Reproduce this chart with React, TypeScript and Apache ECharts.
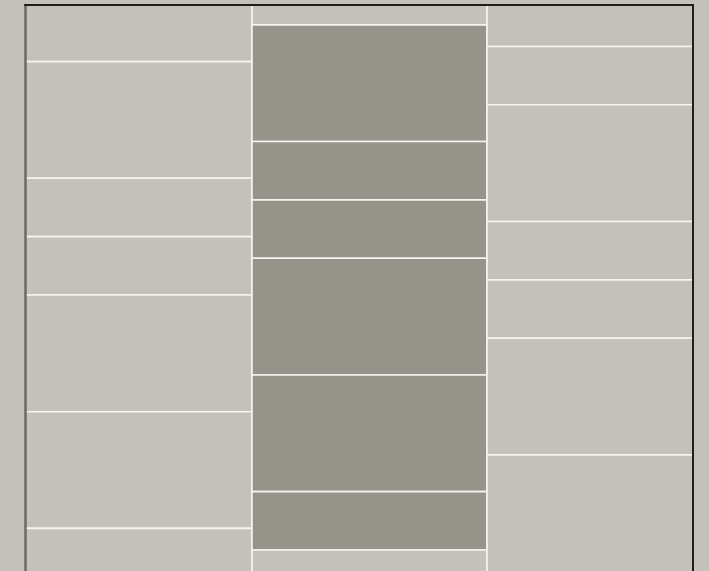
import React, { useEffect, useRef } from "react";
import * as echarts from "echarts";

const columnEdges = [0, 227, 462, 668];
const columnStarts = [-0.03, -0.66, -0.29];
const leftHeights = [1, 2, 1, 1, 2, 2, 1];
const middleHeights = [1, 2, 1, 1, 2, 2, 1, 1];
const rightHeights = [1, 1, 2, 1, 1, 2, 3];
const leftTones = [0, 0, 0, 0, 0, 0, 0];
const middleTones = [0, 1, 1, 1, 1, 1, 1, 0];
const rightTones = [0, 0, 0, 0, 0, 0, 0];
const yMax = 9.7;

const LIGHT = "#c4c0ba";
const DARK = "#96938b";

function buildData() {
  const cols = [
    [leftHeights, leftTones],
    [middleHeights, middleTones],
    [rightHeights, rightTones],
  ];
  const out: number[][] = [];
  cols.forEach(([heights, tones], ci) => {
    let y = columnStarts[ci];
    heights.forEach((h, i) => {
      out.push([columnEdges[ci], columnEdges[ci + 1], y, y + h, tones[i]]);
      y += h;
    });
  });
  return out;
}

export default function App() {
  const ref = useRef<HTMLDivElement>(null);
  useEffect(() => {
    if (!ref.current) return;
    const chart = echarts.init(ref.current, null, { renderer: "svg" });
    const data = buildData();
    chart.setOption({
      animation: false,
      backgroundColor: LIGHT,
      grid: { left: 25, right: 16, top: 5, bottom: 0 },
      xAxis: {
        type: "value",
        position: "top",
        min: 0,
        max: columnEdges[columnEdges.length - 1],
        axisLine: { show: true, lineStyle: { color: "#1e1e1e", width: 2 } },
        axisTick: { show: false },
        axisLabel: { show: false },
        splitLine: { show: false },
        z: 5,
      },
      yAxis: [
        {
          type: "value",
          inverse: true,
          min: 0,
          max: yMax,
          position: "left",
          axisLine: { show: true, lineStyle: { color: "#6c6a66", width: 2.5 } },
          axisTick: { show: false },
          axisLabel: { show: false },
          splitLine: { show: false },
          z: 5,
        },
        {
          type: "value",
          inverse: true,
          min: 0,
          max: yMax,
          position: "right",
          axisLine: { show: true, lineStyle: { color: "#1e1e1e", width: 2 } },
          axisTick: { show: false },
          axisLabel: { show: false },
          splitLine: { show: false },
          z: 5,
        },
      ],
      series: [
        {
          type: "custom",
          clip: true,
          data,
          renderItem: (params: any, api: any) => {
            const x0 = api.value(0);
            const x1 = api.value(1);
            const y0 = api.value(2);
            const y1 = api.value(3);
            const tone = api.value(4);
            const p0 = api.coord([x0, y0]);
            const p1 = api.coord([x1, y1]);
            return {
              type: "rect",
              shape: { x: p0[0], y: p0[1], width: p1[0] - p0[0], height: p1[1] - p0[1] },
              style: { fill: tone ? DARK : LIGHT, stroke: "#f6f4f0", lineWidth: 1.6 },
            };
          },
        },
      ],
    });
    return () => chart.dispose();
  }, []);
  return (
    <div style={{ position: "fixed", left: 0, top: 0, width: 709, height: 571, background: LIGHT }}>
      <div ref={ref} style={{ width: 709, height: 571 }} />
    </div>
  );
}
